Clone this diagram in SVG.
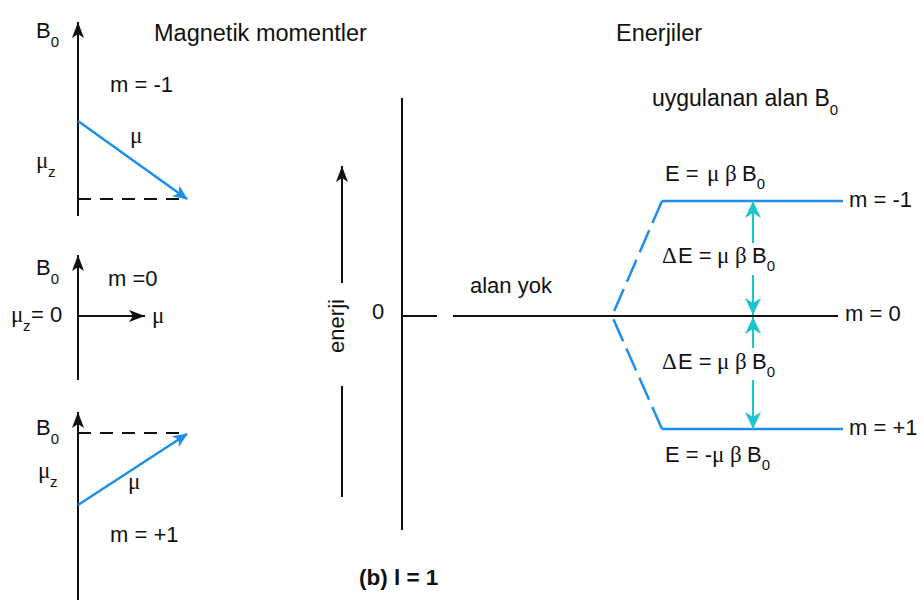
<svg xmlns="http://www.w3.org/2000/svg" width="924" height="605" viewBox="0 0 924 605">
<style>
text{font-family:"Liberation Sans",Arial,sans-serif;font-size:22px;fill:#111}
.t{font-size:23.5px}
.g{font-family:"Liberation Serif","Times New Roman",serif;font-size:23px}
.sub{font-size:15px}
.k{stroke:#111;stroke-width:2;fill:none}
.dash{stroke:#111;stroke-width:2;fill:none;stroke-dasharray:13 9}
.blue{stroke:#1e8fe8;stroke-width:2.5;fill:none}
.bdash{stroke:#1e8fe8;stroke-width:2.5;fill:none;stroke-dasharray:24 8}
.cyan{stroke:#1cc4cc;stroke-width:2;fill:none}
</style>
<defs>
<marker id="ak" markerUnits="userSpaceOnUse" orient="auto" overflow="visible" refX="0" refY="0" markerWidth="20" markerHeight="20">
<path d="M0,0 L-16,-6 L-12,0 L-16,6 Z" fill="#111"/>
</marker>
<marker id="ab" markerUnits="userSpaceOnUse" orient="auto" overflow="visible" refX="0" refY="0" markerWidth="20" markerHeight="20">
<path d="M1,0 L-14,-6.5 L-10,0 L-14,6.5 Z" fill="#1e8fe8"/>
</marker>
<marker id="ac" markerUnits="userSpaceOnUse" orient="auto" overflow="visible" refX="0" refY="0" markerWidth="20" markerHeight="20">
<path d="M0,0 L-17,-8 L-12,0 L-17,8 Z" fill="#1cc4cc"/>
</marker>
</defs>
<rect width="924" height="605" fill="#fff"/>

<g id="titles">
<text class="t" x="154" y="41">Magnetik momentler</text>
<text class="t" x="616" y="41">Enerjiler</text>
</g>

<g id="panel-m-minus1">
<line class="dash" x1="78" y1="199" x2="186" y2="199"/>
<text x="36" y="38">B<tspan class="sub" dy="9">0</tspan></text>
<text x="110" y="92">m = -1</text>
<text class="g" x="130" y="143">μ</text>
<text class="g" x="36" y="168">μ</text><text class="sub" x="48" y="177">z</text>
</g>

<g id="panel-m-0">
<text x="36" y="275">B<tspan class="sub" dy="9">0</tspan></text>
<text x="108" y="286">m =0</text>
<text class="g" x="11" y="322">μ</text><text class="sub" x="23" y="331">z</text><text x="31" y="322">= 0</text>
<text class="g" x="152" y="323">μ</text>
</g>

<g id="panel-m-plus1">
<line class="dash" x1="78" y1="433" x2="186" y2="433"/>
<text x="36" y="435">B<tspan class="sub" dy="9">0</tspan></text>
<text class="g" x="38" y="478">μ</text><text class="sub" x="50" y="487">z</text>
<text class="g" x="128" y="489">μ</text>
<text x="110" y="542">m = +1</text>
</g>

<g id="energy-axis">
<line class="k" x1="402" y1="98" x2="402" y2="530"/>
<text x="372" y="319">0</text>
<text transform="translate(344,326) rotate(-90)" text-anchor="middle">enerji</text>
<text x="359" y="585" style="font-weight:bold;font-size:22.5px">(b) l = 1</text>
</g>

<g id="level-nofield">
<line class="k" x1="402" y1="316" x2="437" y2="316"/>
<line class="k" x1="453" y1="316" x2="612" y2="316"/>
<text x="470" y="293">alan yok</text>
</g>

<g id="level-m0">
<line class="k" x1="612" y1="316" x2="838" y2="316"/>
<text x="845" y="321">m = 0</text>
</g>

<g id="level-m-minus1">
<line class="blue" x1="662" y1="201" x2="843" y2="201"/>
<text x="665" y="181">E =</text><text class="g" x="707" y="181">μ</text><text class="g" x="725" y="181">β</text><text x="742" y="181">B<tspan class="sub" dy="8">0</tspan></text>
<text x="849" y="207">m = -1</text>
</g>

<g id="level-m-plus1">
<line class="blue" x1="662" y1="429" x2="843" y2="429"/>
<text x="665" y="462">E = -</text><text class="g" x="712" y="462">μ</text><text class="g" x="730" y="462">β</text><text x="747" y="462">B<tspan class="sub" dy="8">0</tspan></text>
<text x="849" y="435">m = +1</text>
</g>

<g id="field-label">
<text x="652" y="106" style="font-size:23px">uygulanan alan B<tspan class="sub" dy="9">0</tspan></text>
</g>

<g id="gap-labels">
<text class="g" x="662" y="263">Δ</text><text x="678" y="263">E =</text><text class="g" x="717" y="263">μ</text><text class="g" x="735" y="263">β</text><text x="752" y="263">B<tspan class="sub" dy="8">0</tspan></text>
<text class="g" x="662" y="369">Δ</text><text x="678" y="369">E =</text><text class="g" x="717" y="369">μ</text><text class="g" x="735" y="369">β</text><text x="752" y="369">B<tspan class="sub" dy="8">0</tspan></text>
</g>

<g id="connectors">
<line class="k" x1="78" y1="216" x2="78" y2="22" marker-end="url(#ak)"/>
<line class="blue" x1="78" y1="121" x2="187" y2="199" marker-end="url(#ab)"/>
<line class="k" x1="78" y1="380" x2="78" y2="255" marker-end="url(#ak)"/>
<line class="k" x1="78" y1="316" x2="145" y2="316" marker-end="url(#ak)"/>
<line class="k" x1="78" y1="600" x2="78" y2="412" marker-end="url(#ak)"/>
<line class="blue" x1="78" y1="505" x2="187" y2="434" marker-end="url(#ab)"/>
<line class="k" x1="342" y1="283" x2="342" y2="166" marker-end="url(#ak)"/>
<line class="k" x1="342" y1="386" x2="342" y2="497"/>
<line class="bdash" x1="662" y1="201" x2="612" y2="316"/>
<line class="bdash" x1="662" y1="429" x2="612" y2="316"/>
<line class="cyan" x1="753" y1="243" x2="753" y2="201" marker-end="url(#ac)"/>
<line class="cyan" x1="753" y1="275" x2="753" y2="315" marker-end="url(#ac)"/>
<line class="cyan" x1="753" y1="348" x2="753" y2="317" marker-end="url(#ac)"/>
<line class="cyan" x1="753" y1="380" x2="753" y2="429" marker-end="url(#ac)"/>
</g>
</svg>
